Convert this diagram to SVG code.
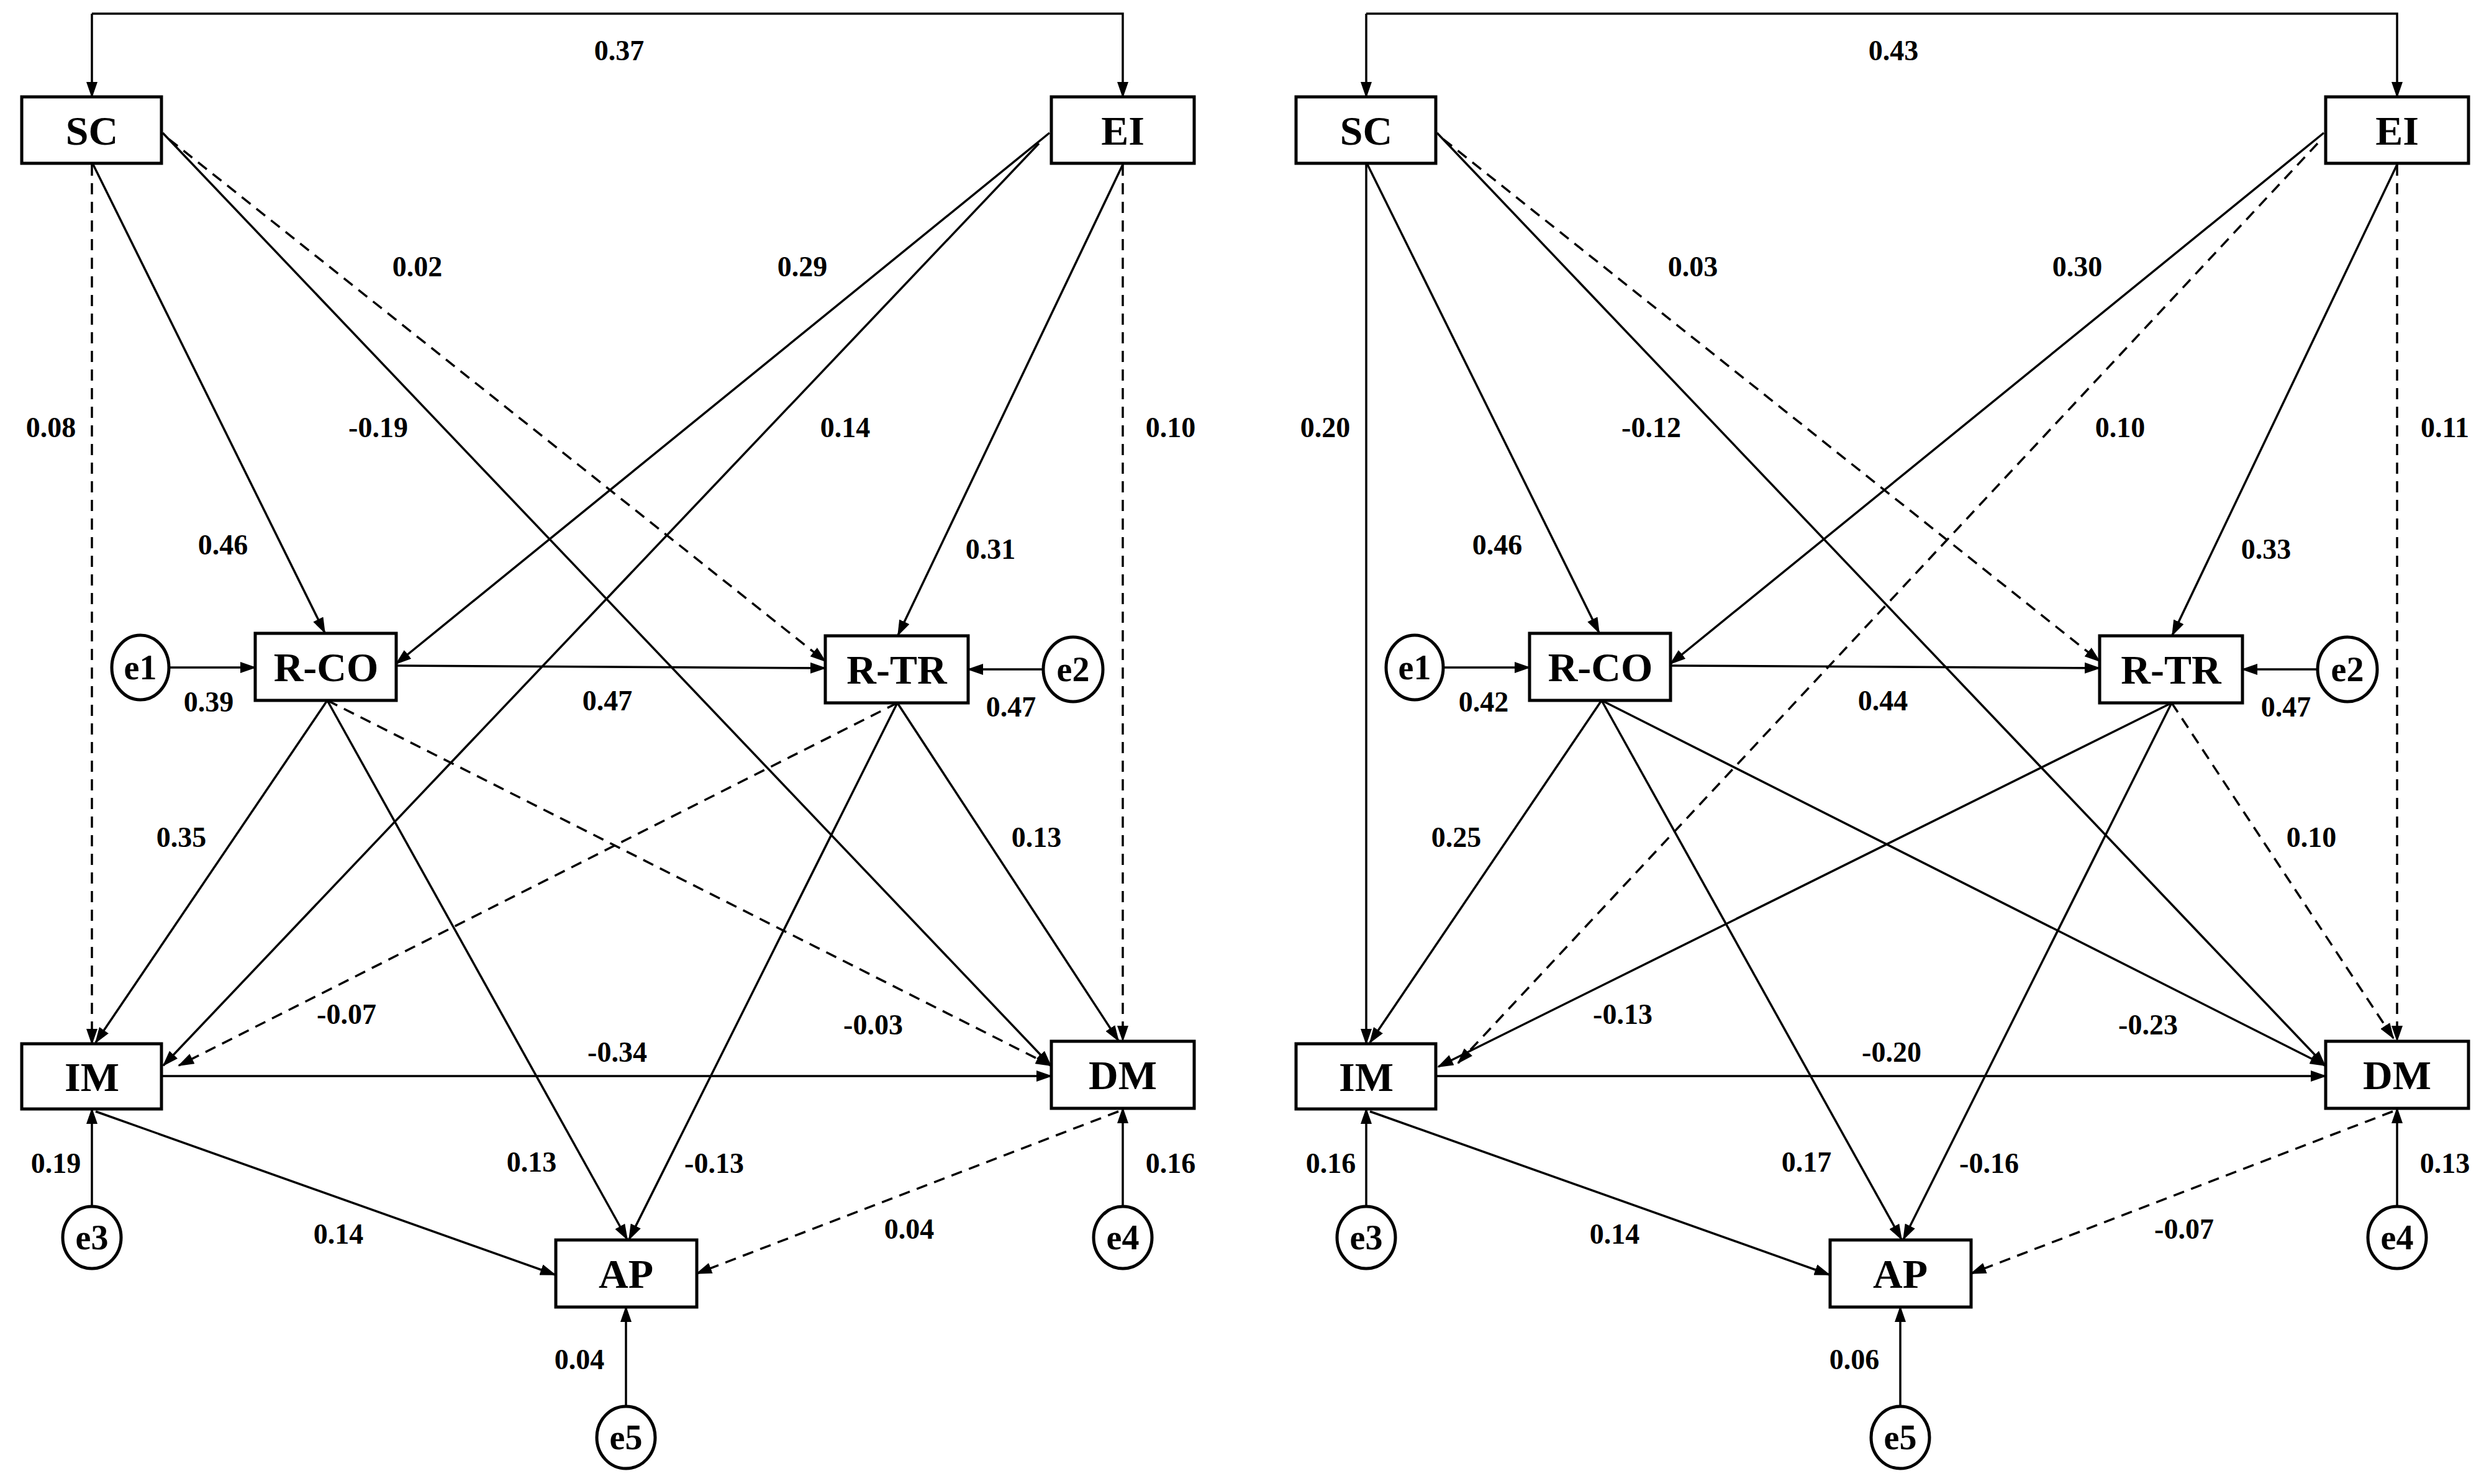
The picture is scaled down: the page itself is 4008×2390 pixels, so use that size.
<svg xmlns="http://www.w3.org/2000/svg" width="4008" height="2390" viewBox="0 0 4008 2390">
<style>
.box{fill:#fff;stroke:#000;stroke-width:5}
.nt{font-family:"Liberation Serif",serif;font-weight:bold;font-size:66px;text-anchor:middle;dominant-baseline:central}
.et{font-family:"Liberation Serif",serif;font-weight:bold;font-size:56px;text-anchor:middle;dominant-baseline:central}
.lb{font-family:"Liberation Serif",serif;font-weight:bold;font-size:46px;text-anchor:middle;dominant-baseline:central}
.s{fill:none;stroke:#000;stroke-width:3.5;marker-end:url(#a)}
.d{fill:none;stroke:#000;stroke-width:3.5;stroke-dasharray:18 12;marker-end:url(#a)}
</style>
<defs>
<marker id="a" markerUnits="userSpaceOnUse" markerWidth="26" markerHeight="18" refX="24" refY="9" orient="auto"><path d="M0,0 L26,9 L0,18 Z" fill="#000"/></marker>
</defs>
<rect width="4008" height="2390" fill="#fff"/>

<g id="left">
<g id="connectors-left">
<path class="s" d="M148,22 V156"/>
<path class="s" d="M148,22 H1808 V156"/>
<path class="d" d="M148,265 V1681"/>
<path class="s" d="M150,265 L523,1019"/>
<path class="s" d="M262,214 L1692,1716"/>
<path class="d" d="M272,224 L1329,1065"/>
<path class="s" d="M1690,214 L638,1069"/>
<path class="s" d="M1673,231 L263,1716"/>
<path class="s" d="M1808,265 L1446,1023"/>
<path class="d" d="M1808,265 V1676"/>
<path class="s" d="M638,1072 L1329,1076"/>
<path class="s" d="M272,1075 H411"/>
<path class="s" d="M1679,1078 H1559"/>
<path class="s" d="M527,1128 L154,1679"/>
<path class="s" d="M527,1128 L1010,1996"/>
<path class="d" d="M527,1128 L1692,1716"/>
<path class="d" d="M1445,1132 L288,1716"/>
<path class="s" d="M1445,1132 L1013,1996"/>
<path class="s" d="M1445,1132 L1801,1676"/>
<path class="s" d="M260,1733 H1693"/>
<path class="s" d="M154,1790 L894,2053"/>
<path class="d" d="M1801,1790 L1122,2051"/>
<path class="s" d="M148,1944 V1786"/>
<path class="s" d="M1808,1944 V1785"/>
<path class="s" d="M1008,2266 V2105"/>
</g>
<g id="L-SC"><rect class="box" x="35" y="156" width="225" height="107"/><text class="nt" x="148" y="210">SC</text></g>
<g id="L-EI"><rect class="box" x="1693" y="156" width="230" height="107"/><text class="nt" x="1808" y="210">EI</text></g>
<g id="L-RCO"><rect class="box" x="411" y="1020" width="227" height="108"/><text class="nt" x="525" y="1074">R-CO</text></g>
<g id="L-RTR"><rect class="box" x="1329" y="1024" width="230" height="108"/><text class="nt" x="1444" y="1078">R-TR</text></g>
<g id="L-IM"><rect class="box" x="35" y="1681" width="225" height="105"/><text class="nt" x="148" y="1734">IM</text></g>
<g id="L-DM"><rect class="box" x="1693" y="1677" width="230" height="108"/><text class="nt" x="1808" y="1731">DM</text></g>
<g id="L-AP"><rect class="box" x="895" y="1997" width="227" height="108"/><text class="nt" x="1008" y="2051">AP</text></g>
<g id="L-e1"><ellipse class="box" cx="226" cy="1075" rx="46" ry="52"/><text class="et" x="226" y="1075">e1</text></g>
<g id="L-e2"><ellipse class="box" cx="1728" cy="1078" rx="48" ry="52"/><text class="et" x="1728" y="1078">e2</text></g>
<g id="L-e3"><ellipse class="box" cx="148" cy="1993" rx="47" ry="50"/><text class="et" x="148" y="1993">e3</text></g>
<g id="L-e4"><ellipse class="box" cx="1808" cy="1993" rx="47" ry="50"/><text class="et" x="1808" y="1993">e4</text></g>
<g id="L-e5"><ellipse class="box" cx="1008" cy="2315" rx="47" ry="50"/><text class="et" x="1008" y="2315">e5</text></g>
<g id="labels-left">
<text class="lb" x="997" y="81">0.37</text>
<text class="lb" x="672" y="429">0.02</text>
<text class="lb" x="1292" y="429">0.29</text>
<text class="lb" x="82" y="688">0.08</text>
<text class="lb" x="609" y="688">-0.19</text>
<text class="lb" x="1361" y="688">0.14</text>
<text class="lb" x="1885" y="688">0.10</text>
<text class="lb" x="359" y="877">0.46</text>
<text class="lb" x="1595" y="884">0.31</text>
<text class="lb" x="336" y="1130">0.39</text>
<text class="lb" x="978" y="1128">0.47</text>
<text class="lb" x="1628" y="1138">0.47</text>
<text class="lb" x="292" y="1348">0.35</text>
<text class="lb" x="1669" y="1348">0.13</text>
<text class="lb" x="558" y="1633">-0.07</text>
<text class="lb" x="1406" y="1650">-0.03</text>
<text class="lb" x="994" y="1694">-0.34</text>
<text class="lb" x="90" y="1873">0.19</text>
<text class="lb" x="856" y="1871">0.13</text>
<text class="lb" x="1150" y="1873">-0.13</text>
<text class="lb" x="1885" y="1873">0.16</text>
<text class="lb" x="545" y="1987">0.14</text>
<text class="lb" x="1464" y="1979">0.04</text>
<text class="lb" x="933" y="2189">0.04</text>
</g>
</g>

<g id="right" transform="translate(2052,0)">
<g id="connectors-right">
<path class="s" d="M148,22 V156"/>
<path class="s" d="M148,22 H1808 V156"/>
<path class="s" d="M148,265 V1681"/>
<path class="s" d="M150,265 L523,1019"/>
<path class="s" d="M262,214 L1692,1716"/>
<path class="d" d="M272,224 L1329,1065"/>
<path class="s" d="M1690,214 L638,1069"/>
<path class="d" d="M1680,231 L296,1712"/>
<path class="s" d="M1808,265 L1446,1023"/>
<path class="d" d="M1808,265 V1676"/>
<path class="s" d="M638,1072 L1329,1076"/>
<path class="s" d="M272,1075 H411"/>
<path class="s" d="M1679,1078 H1559"/>
<path class="s" d="M527,1128 L154,1679"/>
<path class="s" d="M527,1128 L1010,1996"/>
<path class="s" d="M527,1128 L1692,1716"/>
<path class="s" d="M1445,1132 L264,1718"/>
<path class="s" d="M1445,1132 L1013,1996"/>
<path class="d" d="M1445,1132 L1802,1672"/>
<path class="s" d="M260,1733 H1693"/>
<path class="s" d="M154,1790 L894,2053"/>
<path class="d" d="M1801,1790 L1122,2051"/>
<path class="s" d="M148,1944 V1786"/>
<path class="s" d="M1808,1944 V1785"/>
<path class="s" d="M1008,2266 V2105"/>
</g>
<g id="R-SC"><rect class="box" x="35" y="156" width="225" height="107"/><text class="nt" x="148" y="210">SC</text></g>
<g id="R-EI"><rect class="box" x="1693" y="156" width="230" height="107"/><text class="nt" x="1808" y="210">EI</text></g>
<g id="R-RCO"><rect class="box" x="411" y="1020" width="227" height="108"/><text class="nt" x="525" y="1074">R-CO</text></g>
<g id="R-RTR"><rect class="box" x="1329" y="1024" width="230" height="108"/><text class="nt" x="1444" y="1078">R-TR</text></g>
<g id="R-IM"><rect class="box" x="35" y="1681" width="225" height="105"/><text class="nt" x="148" y="1734">IM</text></g>
<g id="R-DM"><rect class="box" x="1693" y="1677" width="230" height="108"/><text class="nt" x="1808" y="1731">DM</text></g>
<g id="R-AP"><rect class="box" x="895" y="1997" width="227" height="108"/><text class="nt" x="1008" y="2051">AP</text></g>
<g id="R-e1"><ellipse class="box" cx="226" cy="1075" rx="46" ry="52"/><text class="et" x="226" y="1075">e1</text></g>
<g id="R-e2"><ellipse class="box" cx="1728" cy="1078" rx="48" ry="52"/><text class="et" x="1728" y="1078">e2</text></g>
<g id="R-e3"><ellipse class="box" cx="148" cy="1993" rx="47" ry="50"/><text class="et" x="148" y="1993">e3</text></g>
<g id="R-e4"><ellipse class="box" cx="1808" cy="1993" rx="47" ry="50"/><text class="et" x="1808" y="1993">e4</text></g>
<g id="R-e5"><ellipse class="box" cx="1008" cy="2315" rx="47" ry="50"/><text class="et" x="1008" y="2315">e5</text></g>
<g id="labels-right">
<text class="lb" x="997" y="81">0.43</text>
<text class="lb" x="674" y="429">0.03</text>
<text class="lb" x="1293" y="429">0.30</text>
<text class="lb" x="82" y="688">0.20</text>
<text class="lb" x="607" y="688">-0.12</text>
<text class="lb" x="1362" y="688">0.10</text>
<text class="lb" x="1885" y="688">0.11</text>
<text class="lb" x="359" y="877">0.46</text>
<text class="lb" x="1597" y="884">0.33</text>
<text class="lb" x="337" y="1130">0.42</text>
<text class="lb" x="980" y="1128">0.44</text>
<text class="lb" x="1629" y="1138">0.47</text>
<text class="lb" x="293" y="1348">0.25</text>
<text class="lb" x="1670" y="1348">0.10</text>
<text class="lb" x="561" y="1633">-0.13</text>
<text class="lb" x="1407" y="1650">-0.23</text>
<text class="lb" x="994" y="1694">-0.20</text>
<text class="lb" x="91" y="1873">0.16</text>
<text class="lb" x="857" y="1871">0.17</text>
<text class="lb" x="1151" y="1873">-0.16</text>
<text class="lb" x="1885" y="1873">0.13</text>
<text class="lb" x="548" y="1987">0.14</text>
<text class="lb" x="1465" y="1979">-0.07</text>
<text class="lb" x="934" y="2189">0.06</text>
</g>
</g>
</svg>
